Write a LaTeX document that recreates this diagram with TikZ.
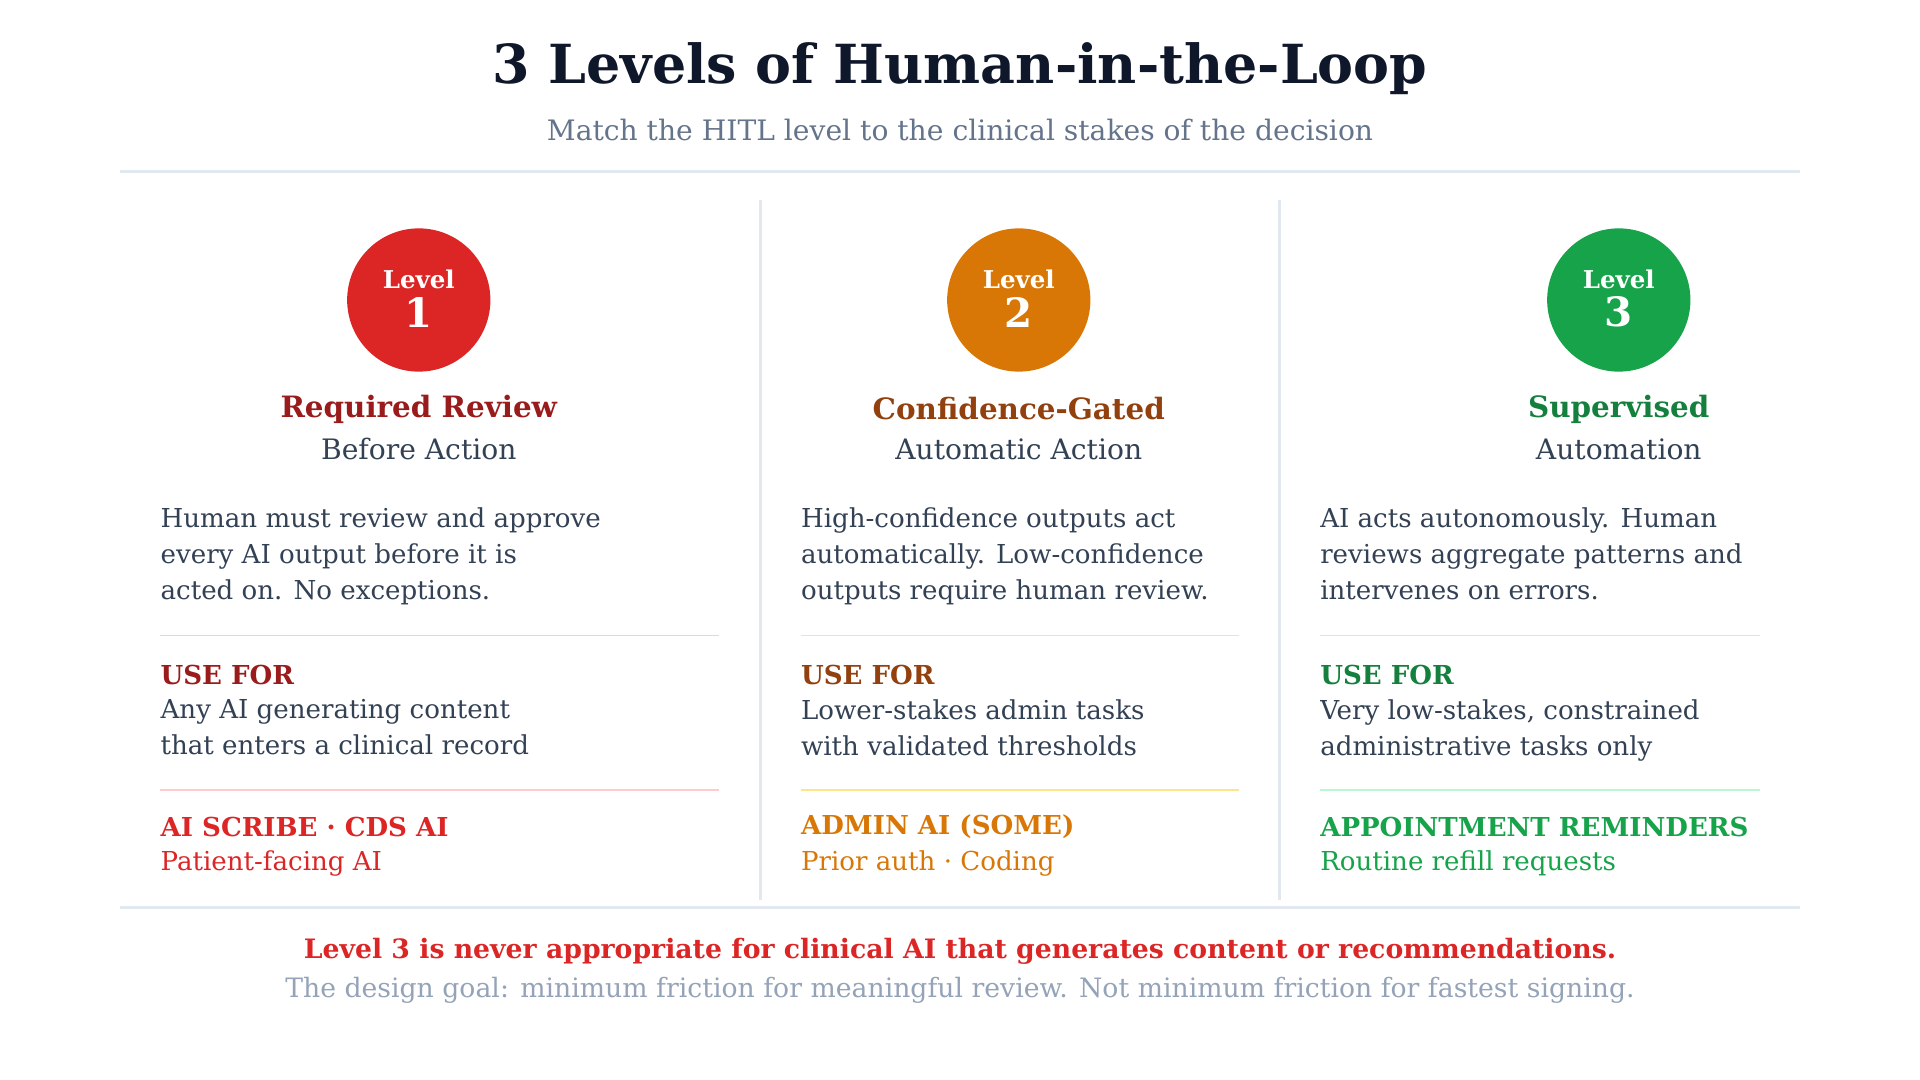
\documentclass[tikz,border=0pt]{standalone}
\usepackage{fontspec}
\setmainfont{DejaVu Serif}
\definecolor{ink}{HTML}{0F172A}
\definecolor{body}{HTML}{334155}
\definecolor{muted}{HTML}{64748B}
\definecolor{faint}{HTML}{94A3B8}
\definecolor{rule}{HTML}{E2E8F0}
\definecolor{redA}{HTML}{DC2626}\definecolor{redB}{HTML}{991B1B}\definecolor{redC}{HTML}{FECACA}
\definecolor{orA}{HTML}{D97706}\definecolor{orB}{HTML}{92400E}\definecolor{orC}{HTML}{FDE68A}
\definecolor{grA}{HTML}{16A34A}\definecolor{grB}{HTML}{15803D}\definecolor{grC}{HTML}{BBF7D0}
\tikzset{
  badge/.style={circle,minimum size=117pt,inner sep=0pt},
  lvlword/.style={text=white,font=\fontsize{20}{20}\selectfont\bfseries},
  lvlnum/.style={text=white,font=\fontsize{33}{33}\selectfont\bfseries},
  head/.style={font=\fontsize{24}{28}\selectfont\bfseries},
  sub/.style={font=\fontsize{23}{27}\selectfont,text=body},
  txt/.style={anchor=north west,inner sep=0pt,align=left,font=\fontsize{21.3}{29.5}\selectfont,text=body},
  tag/.style={anchor=west,inner sep=0pt,font=\fontsize{21.3}{24}\selectfont\bfseries},
  plain tag/.style={anchor=west,inner sep=0pt,font=\fontsize{21.3}{24}\selectfont},
  divider/.style={rule,line width=2pt}
}
\begin{document}
\begin{tikzpicture}[x=1pt,y=-1pt]
\useasboundingbox (0,0) rectangle (1568,882);
% title
\node[font=\fontsize{44}{50}\selectfont\bfseries,text=ink] (title) at (784,56) {3 Levels of Human-in-the-Loop};
\node[font=\fontsize{23}{27}\selectfont,text=muted] (subtitle) at (784,106) {Match the HITL level to the clinical stakes of the decision};
\draw[divider] (98,140) -- (1470,140);
\draw[divider] (98,741) -- (1470,741);
\draw[divider] (621,163) -- (621,735);
\draw[divider] (1045,163) -- (1045,735);

%ONE
\node[badge,fill=redA] (b1) at (342,245) {};
\node[lvlword] (l1) at (342,228) {Level};
\node[lvlnum] (n1) at (342,255) {1};
\node[head,text=redB] (h1) at (342,334) {Required Review};
\node[sub] (s1) at (342,367) {Before Action};
\node[txt] (d1) at (131,414) {Human must review and approve\\every AI output before it is\\acted on. No exceptions.};
\draw[redC,line width=1.5pt] (131,519) -- (587,519);
\node[tag,text=redB] (u1) at (131,551) {USE FOR};
\node[txt] (w1) at (131,571) {Any AI generating content\\that enters a clinical record};
\draw[redC,line width=1.5pt] (131,645) -- (587,645);
\node[tag,text=redA] (e1) at (131,675) {AI SCRIBE · CDS AI};
\node[plain tag,text=redA] (f1) at (131,705) {Patient-facing AI};

%TWO
\node[badge,fill=orA] (b2) at (832,245) {};
\node[lvlword] (l2) at (832,228) {Level};
\node[lvlnum] (n2) at (832,255) {2};
\node[head,text=orB] (h2) at (832,334) {Confidence-Gated};
\node[sub] (s2) at (832,367) {Automatic Action};
\node[txt] (d2) at (654,414) {High-confidence outputs act\\automatically. Low-confidence\\outputs require human review.};
\draw[orC,line width=1.5pt] (654,519) -- (1012,519);
\node[tag,text=orB] (u2) at (654,551) {USE FOR};
\node[txt] (w2) at (654,571) {Lower-stakes admin tasks\\with validated thresholds};
\draw[orC,line width=1.5pt] (654,645) -- (1012,645);
\node[tag,text=orA] (e2) at (654,675) {ADMIN AI (SOME)};
\node[plain tag,text=orA] (f2) at (654,705) {Prior auth · Coding};

%THREE
\node[badge,fill=grA] (b3) at (1322,245) {};
\node[lvlword] (l3) at (1322,228) {Level};
\node[lvlnum] (n3) at (1322,255) {3};
\node[head,text=grB] (h3) at (1322,334) {Supervised};
\node[sub] (s3) at (1322,367) {Automation};
\node[txt] (d3) at (1078,414) {AI acts autonomously. Human\\reviews aggregate patterns and\\intervenes on errors.};
\draw[grC,line width=1.5pt] (1078,519) -- (1437,519);
\node[tag,text=grB] (u3) at (1078,551) {USE FOR};
\node[txt] (w3) at (1078,571) {Very low-stakes, constrained\\administrative tasks only};
\draw[grC,line width=1.5pt] (1078,645) -- (1437,645);
\node[tag,text=grA] (e3) at (1078,675) {APPOINTMENT REMINDERS};
\node[plain tag,text=grA] (f3) at (1078,705) {Routine refill requests};

%FOOTER
\node[font=\fontsize{21.8}{24}\selectfont\bfseries,text=redA] (warn) at (784,777) {Level 3 is never appropriate for clinical AI that generates content or recommendations.};
\node[font=\fontsize{21.8}{24}\selectfont,text=faint] (goal) at (784,809) {The design goal: minimum friction for meaningful review. Not minimum friction for fastest signing.};
\end{tikzpicture}
\end{document}
